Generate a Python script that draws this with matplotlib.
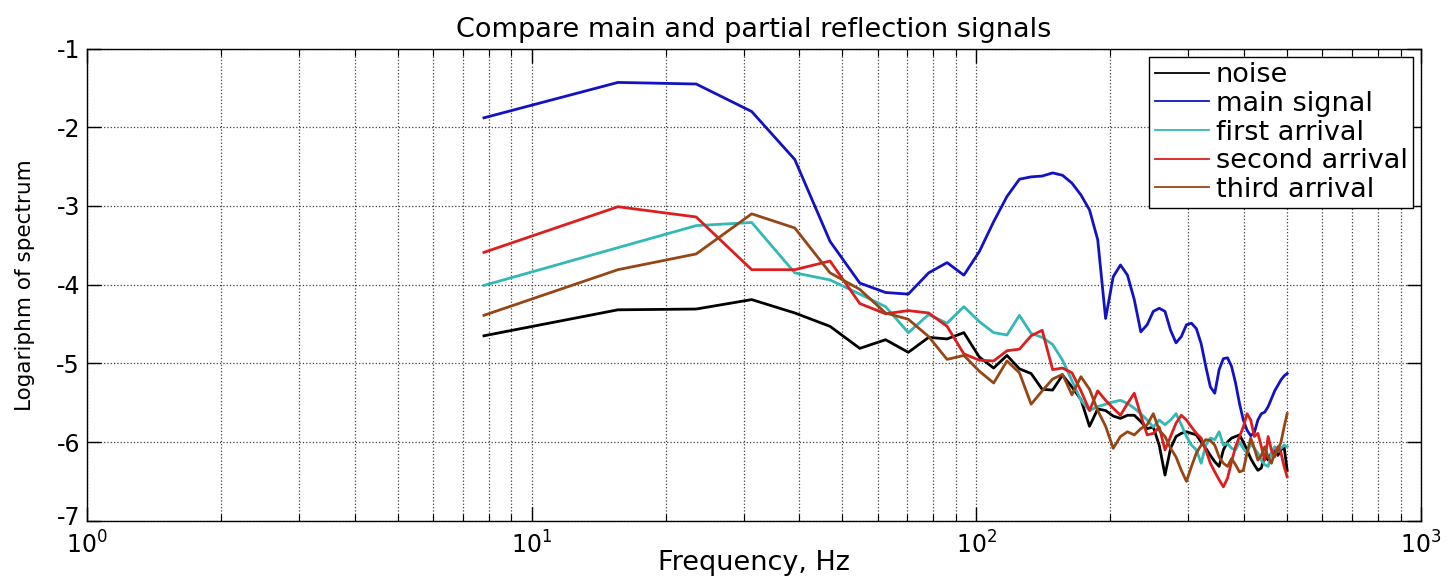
import matplotlib
matplotlib.use('Agg')
import matplotlib.pyplot as plt
from matplotlib.ticker import LogLocator, NullFormatter
from matplotlib.transforms import ScaledTranslation

plt.rcParams['axes.unicode_minus'] = False
plt.rcParams['font.family'] = 'DejaVu Sans'

# frequency bins, Hz
freq_hz = [7.81, 15.63, 23.44, 31.25, 39.06, 46.88, 54.69, 62.50, 70.31, 78.13,
           85.94, 93.75, 101.56, 109.38, 117.19, 125.00, 132.81, 140.63, 148.44, 156.25,
           164.06, 171.88, 179.69, 187.50, 195.31, 203.13, 210.94, 218.75, 226.56, 234.38,
           242.19, 250.00, 257.81, 265.63, 273.44, 281.25, 289.06, 296.88, 304.69, 312.50,
           320.31, 328.13, 335.94, 343.75, 351.56, 359.38, 367.19, 375.00, 382.81, 390.63,
           398.44, 406.25, 414.06, 421.88, 429.69, 437.50, 445.31, 453.13, 460.94, 468.75,
           476.56, 484.38, 492.19, 500.00]

noise = [-4.65, -4.32, -4.31, -4.19, -4.36, -4.53, -4.81, -4.70, -4.86, -4.67,
         -4.69, -4.61, -4.92, -5.06, -4.90, -5.07, -5.13, -5.33, -5.34, -5.15,
         -5.30, -5.46, -5.80, -5.58, -5.60, -5.67, -5.70, -5.66, -5.66, -5.74,
         -5.83, -5.81, -6.04, -6.42, -6.08, -5.93, -5.89, -5.87, -5.89, -5.91,
         -6.00, -6.08, -6.17, -6.25, -6.31, -6.10, -6.00, -5.95, -5.93, -5.91,
         -6.00, -6.10, -6.21, -6.29, -6.36, -6.33, -6.17, -6.23, -6.14, -6.10,
         -6.17, -6.10, -6.06, -6.36]

main_signal = [-1.88, -1.43, -1.45, -1.80, -2.41, -3.45, -3.98, -4.10, -4.12, -3.85,
               -3.72, -3.88, -3.58, -3.20, -2.88, -2.66, -2.63, -2.62, -2.58, -2.61,
               -2.71, -2.86, -3.05, -3.43, -4.43, -3.90, -3.75, -3.88, -4.19, -4.60,
               -4.51, -4.34, -4.30, -4.34, -4.58, -4.74, -4.66, -4.51, -4.49, -4.56,
               -4.75, -5.04, -5.30, -5.38, -5.08, -4.94, -4.93, -5.04, -5.25, -5.51,
               -5.72, -5.85, -5.92, -5.88, -5.72, -5.64, -5.62, -5.55, -5.45, -5.35,
               -5.28, -5.21, -5.16, -5.13]

first_arrival = [-4.01, -3.53, -3.25, -3.21, -3.85, -3.94, -4.12, -4.28, -4.61, -4.38,
                 -4.49, -4.28, -4.47, -4.61, -4.64, -4.39, -4.62, -4.67, -4.76, -4.96,
                 -5.22, -5.47, -5.60, -5.55, -5.52, -5.49, -5.47, -5.51, -5.57, -5.64,
                 -5.72, -5.81, -5.72, -5.78, -5.72, -5.64, -5.78, -5.93, -6.04, -6.10,
                 -6.27, -6.04, -5.95, -5.97, -5.87, -6.04, -6.02, -6.08, -6.10, -6.00,
                 -6.08, -6.14, -6.02, -6.08, -6.14, -6.23, -6.29, -6.31, -6.14, -6.06,
                 -6.12, -6.08, -6.04, -6.06]

second_arrival = [-3.59, -3.01, -3.14, -3.81, -3.81, -3.70, -4.24, -4.37, -4.33, -4.36,
                  -4.53, -4.88, -4.96, -4.97, -4.84, -4.82, -4.65, -4.58, -5.08, -5.06,
                  -5.12, -5.35, -5.60, -5.35, -5.47, -5.57, -5.66, -5.51, -5.38, -5.66,
                  -5.91, -5.89, -5.81, -6.10, -5.93, -5.76, -5.66, -5.72, -5.81, -5.89,
                  -5.95, -6.10, -6.27, -6.38, -6.48, -6.57, -6.46, -6.25, -6.06, -5.93,
                  -5.81, -5.64, -5.72, -5.93, -5.89, -6.06, -6.23, -5.93, -6.10, -6.19,
                  -6.06, -6.14, -6.31, -6.44]

third_arrival = [-4.39, -3.81, -3.61, -3.10, -3.28, -3.85, -4.06, -4.36, -4.44, -4.66,
                 -4.95, -4.90, -5.10, -5.25, -4.97, -5.12, -5.52, -5.35, -5.20, -5.14,
                 -5.40, -5.17, -5.33, -5.60, -5.80, -6.08, -5.93, -5.87, -5.91, -5.83,
                 -5.78, -5.64, -5.85, -5.93, -6.08, -6.19, -6.36, -6.50, -6.31, -6.14,
                 -6.04, -5.97, -5.98, -6.04, -6.19, -6.27, -6.31, -6.21, -6.29, -6.38,
                 -6.36, -6.14, -5.95, -6.08, -6.23, -6.17, -6.06, -6.19, -6.27, -6.14,
                 -6.10, -6.00, -5.81, -5.64]

series = [
    ('noise', noise, '#000000'),
    ('main signal', main_signal, '#1212c4'),
    ('first arrival', first_arrival, '#33b8b8'),
    ('second arrival', second_arrival, '#dc1e1e'),
    ('third arrival', third_arrival, '#964614'),
]

fig = plt.figure(figsize=(14.5, 5.84), dpi=100)
ax = fig.add_axes([0.06, 0.1084, 0.92, 0.8084])

for name, vals, col in series:
    ax.plot(freq_hz, vals, color=col, linewidth=2.0, label=name)

ax.set_xscale('log')
ax.set_xlim(1, 1000)
ax.set_ylim(-7, -1)
ax.set_yticks([-7, -6, -5, -4, -3, -2, -1])
ax.xaxis.set_minor_locator(LogLocator(base=10, subs=range(2, 10)))
ax.xaxis.set_minor_formatter(NullFormatter())

ax.grid(True, which='major', linestyle=':', color='0.25', linewidth=0.9)
ax.grid(True, which='minor', axis='x', linestyle=':', color='0.25', linewidth=0.9)

ax.tick_params(which='both', direction='in', top=True, right=True, labelsize=17)
ax.tick_params(axis='y', pad=5)
ax.tick_params(axis='x', pad=8)
ax.tick_params(which='major', length=10, width=1)
ax.tick_params(which='minor', length=5, width=0.8)
for sp in ax.spines.values():
    sp.set_linewidth(1)

ax.set_title('Compare main and partial reflection signals', fontsize=19.5, pad=8)
ax.set_xlabel('Frequency, Hz', fontsize=19.5)
ax.xaxis.set_label_coords(0.5, -0.063)
ax.set_ylabel('Logariphm of spectrum', fontsize=15.5, labelpad=15)

leg = ax.legend(loc='upper right', fontsize=19.5, handlelength=2.0, handletextpad=0.25,
                labelspacing=0.1, borderpad=0.2, borderaxespad=0.3,
                fancybox=False, framealpha=1, edgecolor='black')
leg.get_frame().set_linewidth(1)
for line in leg.get_lines():
    line.set_linewidth(1.3)

# lift the bottom y label a little so it clears the 10^0 label
fig.canvas.draw()
lowest = ax.yaxis.get_major_ticks()[0].label1
lowest.set_transform(lowest.get_transform() + ScaledTranslation(0, 4 / 72, fig.dpi_scale_trans))

fig.savefig('out.png', dpi=100)
